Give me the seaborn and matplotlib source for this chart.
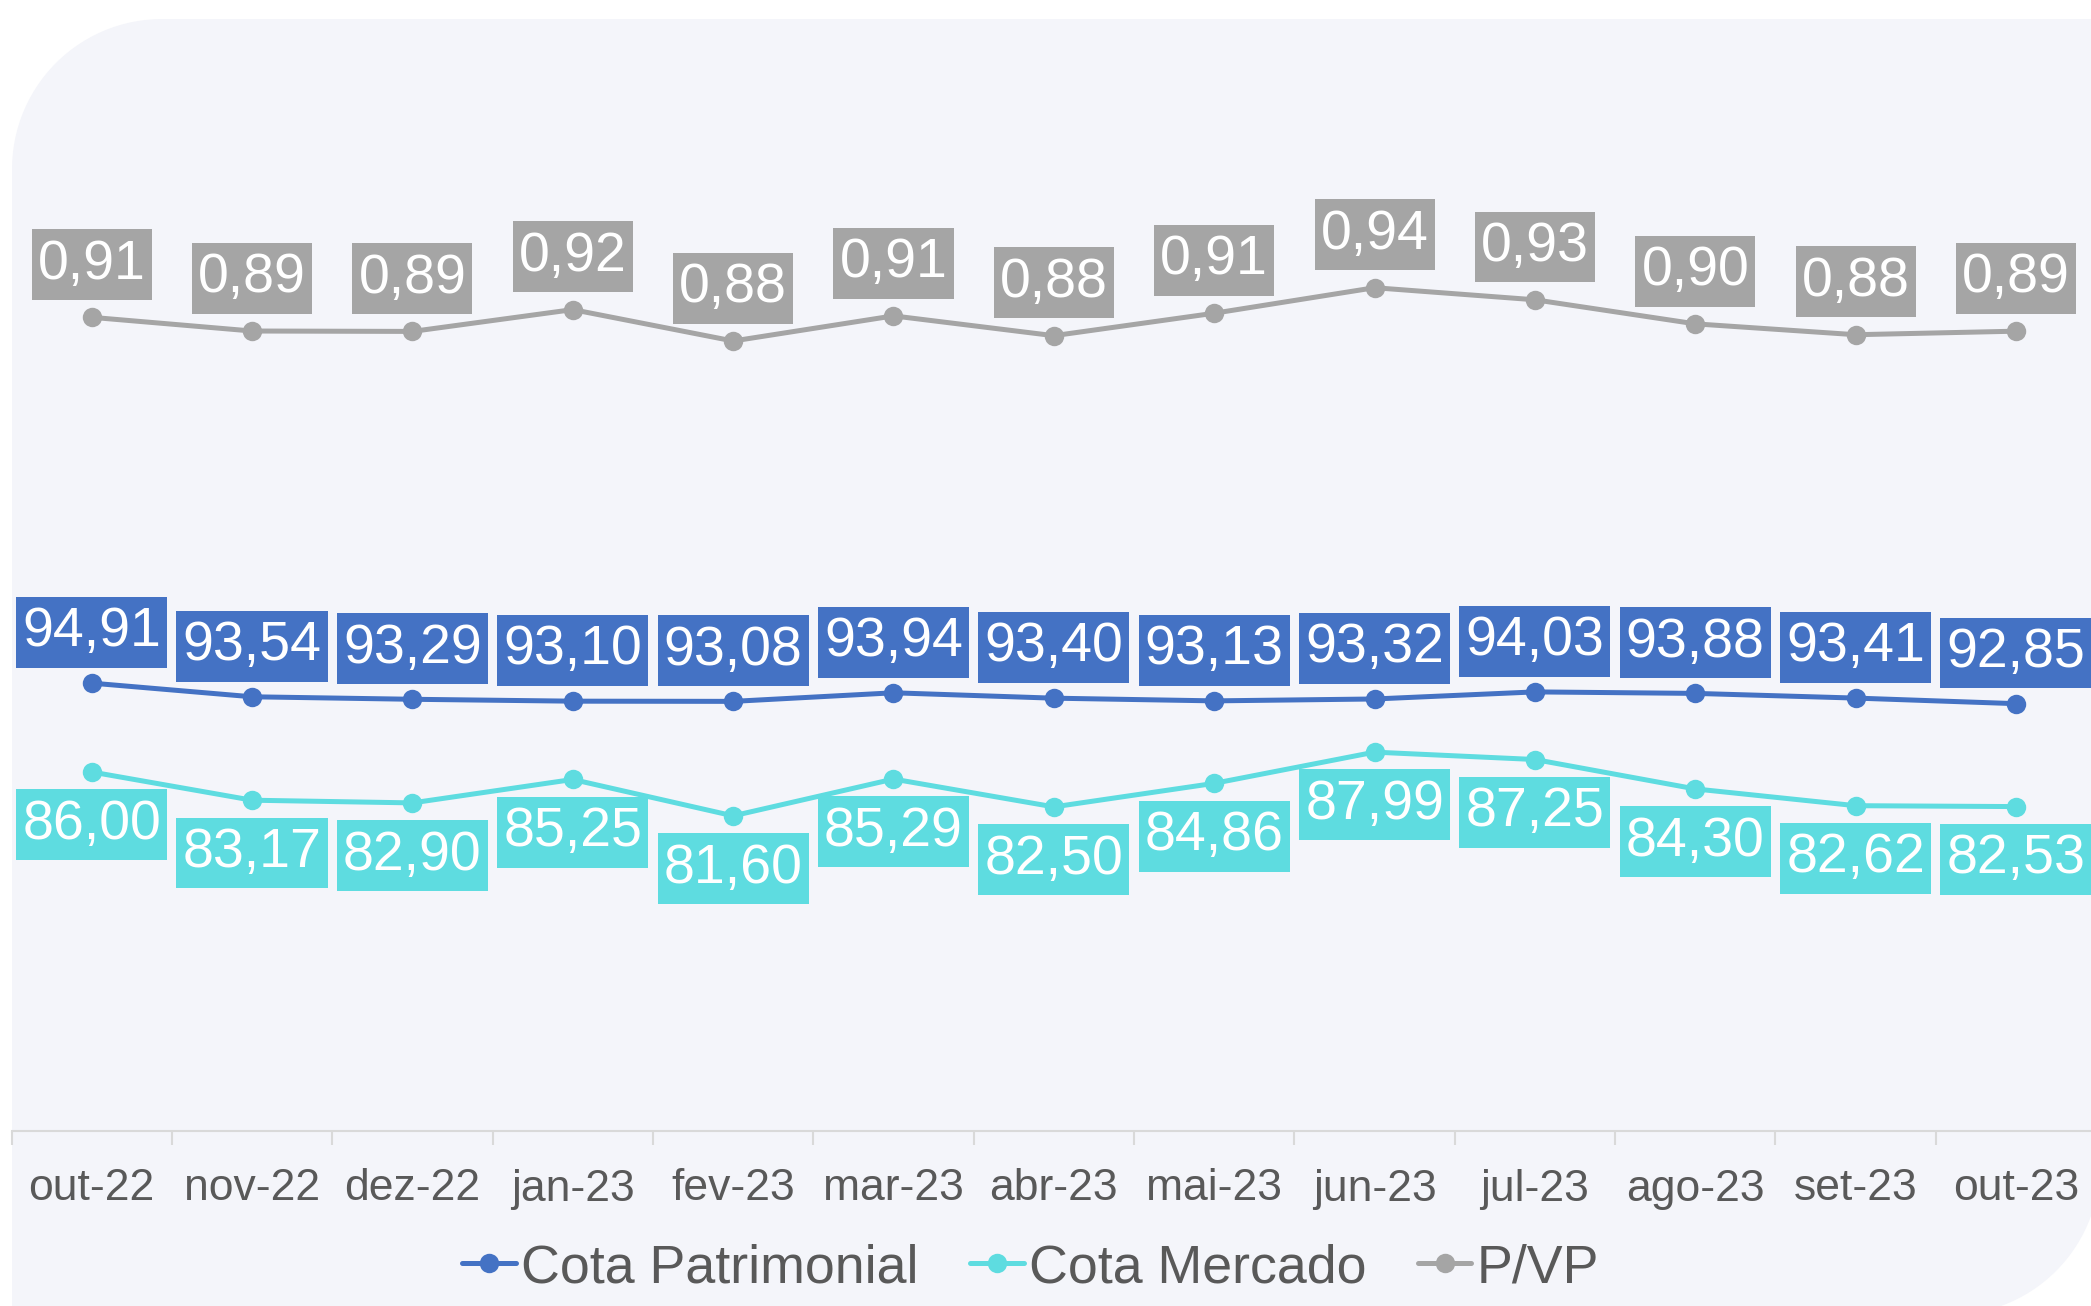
import numpy as np
import pandas as pd
import matplotlib
matplotlib.use("Agg")
import matplotlib.pyplot as plt
from matplotlib.patches import PathPatch
from matplotlib.path import Path
from matplotlib.transforms import IdentityTransform
from matplotlib.lines import Line2D
import seaborn as sns

months = ["out-22", "nov-22", "dez-22", "jan-23", "fev-23", "mar-23", "abr-23",
          "mai-23", "jun-23", "jul-23", "ago-23", "set-23", "out-23"]
cota_patrimonial = [94.91, 93.54, 93.29, 93.10, 93.08, 93.94, 93.40, 93.13, 93.32, 94.03, 93.88, 93.41, 92.85]
cota_mercado = [86.00, 83.17, 82.90, 85.25, 81.60, 85.29, 82.50, 84.86, 87.99, 87.25, 84.30, 82.62, 82.53]
p_vp = [0.9061, 0.8891, 0.8886, 0.9157, 0.8767, 0.9079, 0.8833, 0.9112, 0.9429, 0.9279, 0.8980, 0.8845, 0.8889]

C_BLUE = "#4472C4"
C_CYAN = "#5EDCE0"
C_GRAY = "#A5A5A5"
C_TEXT = "#595959"
C_AXIS = "#D9D9D9"
BG = "#F4F5FA"

sns.set_theme(style="white")
plt.rcParams["font.family"] = ["Liberation Sans", "DejaVu Sans"]

W, H = 2091, 1306
fig = plt.figure(figsize=(W / 100, H / 100), dpi=100)
fig.patch.set_facecolor("white")

# diagonal-rounded background panel (pixel coordinates, origin bottom-left)
x0, x1 = 12, 2100
y_top, y_bot = H - 19, H - 1315
r = 150
t1 = np.linspace(np.pi, np.pi / 2, 30)
t2 = np.linspace(0, -np.pi / 2, 30)
pts = [(x0, y_bot), (x0, y_top - r)]
pts += [(x0 + r + r * np.cos(t), y_top - r + r * np.sin(t)) for t in t1]
pts += [(x1, y_top), (x1, y_bot + r)]
pts += [(x1 - r + r * np.cos(t), y_bot + r + r * np.sin(t)) for t in t2]
pts += [(x0, y_bot)]
bg = PathPatch(Path(pts), transform=IdentityTransform(), facecolor=BG,
               edgecolor="none", zorder=-10)
fig.patches.append(bg)

left_px, right_px = 11.5, 2096.2
bottom_px, top_px = 1131, 31
ax = fig.add_axes([left_px / W, (H - bottom_px) / H, (right_px - left_px) / W, (bottom_px - top_px) / H])
ax.patch.set_alpha(0)
ax2 = ax.twinx()
ax2.patch.set_alpha(0)

df = pd.DataFrame({"x": np.arange(len(months)), "patr": cota_patrimonial,
                   "merc": cota_mercado, "pvp": p_vp})

lw = 3.6
ms = 14
sns.lineplot(data=df, x="x", y="patr", ax=ax, color=C_BLUE, lw=lw, marker="o",
             markersize=ms, markeredgewidth=0, zorder=3)
sns.lineplot(data=df, x="x", y="merc", ax=ax, color=C_CYAN, lw=lw, marker="o",
             markersize=ms, markeredgewidth=0, zorder=3)
sns.lineplot(data=df, x="x", y="pvp", ax=ax2, color=C_GRAY, lw=lw, marker="o",
             markersize=ms, markeredgewidth=0, zorder=3)

ax.set_xlim(-0.5, len(months) - 0.5)
ax.set_ylim(50, 160.3)
ax2.set_ylim(-0.1047, 1.2618)

def fmt(v):
    return f"{v:.2f}".replace(".", ",")

def label_box(x0, y0, width, height, mutation_size):
    px = 0.11 * mutation_size
    py = 0.17 * mutation_size
    xa, xb = x0 - px, x0 + width + px
    ya, yb = y0 - py, y0 + height + py
    return Path([(xa, ya), (xb, ya), (xb, yb), (xa, yb), (xa, ya)], closed=True)

def label(a, xs, ys, color, dy):
    for x, y in zip(xs, ys):
        a.annotate(fmt(y), (x, y), xytext=(0, dy), textcoords="offset points",
                   ha="center", va="center", color="white", fontsize=40,
                   bbox=dict(boxstyle=label_box, fc=color, ec="none"),
                   zorder=5, annotation_clip=False)

label(ax, df["x"], cota_patrimonial, C_BLUE, 36.5)
label(ax, df["x"], cota_mercado, C_CYAN, -38)
label(ax2, df["x"], p_vp, C_GRAY, 38)

for a in (ax, ax2):
    for s in ("top", "right", "left"):
        a.spines[s].set_visible(False)
    a.set_xlabel("")
    a.set_ylabel("")
    a.set_yticks([])
ax2.spines["bottom"].set_visible(False)
ax.spines["bottom"].set_color(C_AXIS)
ax.spines["bottom"].set_linewidth(1.5)

ax.set_xticks(np.arange(len(months)))
ax.set_xticklabels(months, fontsize=32, color=C_TEXT)
ax.set_xticks(np.arange(len(months) + 1) - 0.5, minor=True)
ax.tick_params(axis="x", which="major", bottom=True, length=0, pad=27)
ax.tick_params(axis="x", which="minor", bottom=True, length=10, width=1.5,
               color=C_AXIS, direction="out")
ax2.tick_params(axis="x", which="both", bottom=False, labelbottom=False)

handles = [Line2D([], [], color=c, lw=lw, marker="o", markersize=ms, markeredgewidth=0)
           for c in (C_BLUE, C_CYAN, C_GRAY)]
leg = fig.legend(handles, ["Cota Patrimonial", "Cota Mercado", "P/VP"], loc="center",
                 bbox_to_anchor=(0.493, 0.029), ncol=3, frameon=False, fontsize=38.7,
                 handlelength=1.0, handletextpad=0.1, columnspacing=0.95)
for t in leg.get_texts():
    t.set_color(C_TEXT)

fig.savefig("out.png", dpi=100, facecolor=fig.get_facecolor())
